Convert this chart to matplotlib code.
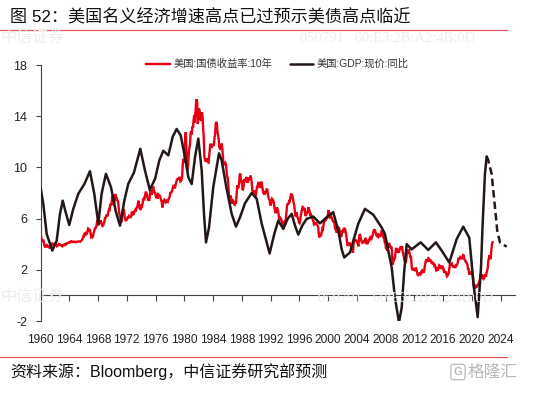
import numpy as np
import matplotlib
matplotlib.use("Agg")
import matplotlib.pyplot as plt
from matplotlib.lines import Line2D

plt.rcParams['font.family'] = ['Liberation Sans', 'Noto Sans CJK SC', 'DejaVu Sans']

# ---------------- data ----------------
title = "图 52：美国名义经济增速高点已过预示美债高点临近"
source = "资料来源：Bloomberg，中信证券研究部预测"
label_ust = "美国:国债收益率:10年"
label_gdp = "美国:GDP:现价:同比"

ust10y_start_year = 1960
ust10y = [
    4.72, 4.49, 4.25, 4.28, 4.35, 4.15, 3.90, 3.80, 3.80, 3.89, 3.93, 3.84,
    3.84, 3.78, 3.74, 3.78, 3.71, 3.88, 3.92, 4.04, 3.98, 3.92, 3.94, 4.06,
    4.08, 4.04, 3.93, 3.84, 3.87, 3.91, 4.01, 3.98, 3.98, 3.93, 3.92, 3.86,
    3.83, 3.92, 3.93, 3.97, 3.93, 3.99, 4.02, 4.00, 4.08, 4.11, 4.12, 4.13,
    4.17, 4.15, 4.22, 4.23, 4.20, 4.17, 4.19, 4.19, 4.20, 4.19, 4.15, 4.18,
    4.19, 4.21, 4.21, 4.20, 4.21, 4.21, 4.20, 4.25, 4.29, 4.35, 4.45, 4.62,
    4.61, 4.83, 4.87, 4.75, 4.78, 4.81, 5.02, 5.22, 5.18, 5.01, 5.16, 4.84,
    4.58, 4.63, 4.54, 4.59, 4.85, 5.02, 5.16, 5.28, 5.30, 5.48, 5.75, 5.70,
    5.53, 5.56, 5.74, 5.64, 5.87, 5.72, 5.50, 5.42, 5.46, 5.58, 5.70, 6.03,
    6.04, 6.19, 6.30, 6.17, 6.32, 6.57, 6.72, 6.69, 7.16, 7.10, 7.14, 7.65,
    7.79, 7.24, 7.07, 7.39, 7.91, 7.84, 7.46, 7.53, 7.39, 7.33, 6.84, 6.39,
    6.24, 6.11, 5.70, 5.83, 6.39, 6.52, 6.73, 6.58, 6.14, 5.93, 5.81, 5.93,
    5.95, 6.08, 6.07, 6.19, 6.13, 6.11, 6.11, 6.21, 6.55, 6.48, 6.28, 6.36,
    6.46, 6.64, 6.71, 6.67, 6.85, 6.90, 7.13, 7.40, 7.09, 6.79, 6.73, 6.74,
    6.99, 6.96, 7.21, 7.51, 7.58, 7.54, 7.81, 8.04, 8.04, 7.90, 7.68, 7.43,
    7.50, 7.39, 7.73, 8.23, 8.06, 7.86, 8.06, 8.40, 8.43, 8.14, 8.05, 8.00,
    7.74, 7.79, 7.73, 7.56, 7.90, 7.86, 7.83, 7.77, 7.59, 7.41, 7.29, 6.87,
    7.21, 7.39, 7.46, 7.37, 7.46, 7.28, 7.33, 7.40, 7.34, 7.52, 7.58, 7.69,
    8.01, 8.03, 8.04, 8.15, 8.35, 8.46, 8.64, 8.41, 8.42, 8.64, 8.81, 9.01,
    9.10, 9.10, 9.12, 9.18, 9.25, 8.91, 8.95, 9.03, 9.33, 10.30, 10.65, 10.39,
    10.80, 12.41, 12.75, 11.47, 10.18, 9.78, 10.25, 11.10, 11.51, 11.75, 12.68, 12.84,
    12.57, 13.19, 13.12, 13.68, 14.10, 13.47, 14.28, 14.94, 15.32, 15.15, 13.39, 13.72,
    14.59, 14.43, 13.86, 13.87, 13.62, 14.30, 13.95, 13.06, 12.34, 10.91, 10.55, 10.54,
    10.46, 10.72, 10.51, 10.40, 10.38, 10.85, 11.38, 11.85, 11.65, 11.54, 11.69, 11.83,
    11.67, 11.84, 12.32, 12.63, 13.41, 13.56, 13.36, 12.72, 12.52, 12.16, 11.57, 11.50,
    11.38, 11.51, 11.86, 11.43, 10.85, 10.16, 10.31, 10.33, 10.37, 10.24, 9.78, 9.26,
    9.19, 8.70, 7.78, 7.30, 7.71, 7.80, 7.30, 7.17, 7.45, 7.43, 7.25, 7.11,
    7.08, 7.25, 7.25, 8.02, 8.61, 8.40, 8.45, 8.76, 9.42, 9.52, 8.86, 8.99,
    8.67, 8.21, 8.37, 8.72, 9.09, 8.92, 9.06, 9.26, 8.98, 8.80, 8.96, 9.11,
    9.09, 9.17, 9.36, 9.18, 8.86, 8.28, 8.02, 8.11, 8.19, 8.01, 7.87, 7.84,
    8.21, 8.47, 8.59, 8.79, 8.76, 8.48, 8.47, 8.75, 8.89, 8.72, 8.39, 8.08,
    8.09, 7.85, 8.11, 8.04, 8.07, 8.28, 8.27, 7.90, 7.65, 7.53, 7.42, 7.09,
    7.03, 7.34, 7.54, 7.48, 7.39, 7.26, 6.84, 6.59, 6.42, 6.59, 6.87, 6.77,
    6.60, 6.26, 5.98, 5.97, 6.04, 5.96, 5.81, 5.68, 5.36, 5.33, 5.72, 5.77,
    5.75, 5.97, 6.48, 6.97, 7.18, 7.10, 7.30, 7.24, 7.46, 7.74, 7.96, 7.81,
    7.78, 7.47, 7.20, 7.06, 6.63, 6.17, 6.28, 6.49, 6.20, 6.04, 5.93, 5.71,
    5.65, 5.81, 6.27, 6.51, 6.74, 6.91, 6.87, 6.64, 6.83, 6.53, 6.20, 6.30,
    6.58, 6.42, 6.69, 6.89, 6.71, 6.49, 6.22, 6.30, 6.21, 6.03, 5.88, 5.81,
    5.54, 5.57, 5.65, 5.64, 5.65, 5.50, 5.46, 5.34, 4.81, 4.53, 4.83, 4.65,
    4.72, 5.00, 5.23, 5.18, 5.54, 5.90, 5.79, 5.94, 5.92, 6.11, 6.03, 6.28,
    6.66, 6.52, 6.26, 5.99, 6.44, 6.10, 6.05, 5.83, 5.80, 5.74, 5.72, 5.24,
    5.16, 5.10, 4.89, 5.14, 5.39, 5.28, 5.24, 4.97, 4.73, 4.57, 4.65, 5.09,
    5.04, 4.91, 5.28, 5.21, 5.16, 4.93, 4.65, 4.26, 3.87, 3.94, 4.05, 4.03,
    4.05, 3.90, 3.81, 3.96, 3.57, 3.33, 3.98, 4.45, 4.27, 4.29, 4.30, 4.27,
    4.15, 4.08, 3.83, 4.35, 4.72, 4.73, 4.50, 4.28, 4.13, 4.10, 4.19, 4.23,
    4.22, 4.17, 4.50, 4.34, 4.14, 4.00, 4.18, 4.26, 4.20, 4.46, 4.54, 4.47,
    4.42, 4.57, 4.72, 4.99, 5.11, 5.11, 5.09, 4.88, 4.72, 4.73, 4.60, 4.56,
    4.76, 4.72, 4.56, 4.69, 4.75, 5.10, 5.00, 4.67, 4.52, 4.53, 4.15, 4.10,
    3.74, 3.74, 3.51, 3.68, 3.88, 4.10, 4.01, 3.89, 3.69, 3.81, 3.53, 2.42,
    2.52, 2.87, 2.82, 2.93, 3.29, 3.72, 3.56, 3.59, 3.40, 3.39, 3.40, 3.59,
    3.73, 3.69, 3.73, 3.85, 3.42, 3.20, 3.01, 2.70, 2.65, 2.54, 2.76, 3.29,
    3.39, 3.58, 3.41, 3.46, 3.17, 3.00, 3.00, 2.30, 1.98, 2.15, 2.01, 1.98,
    1.97, 1.97, 2.17, 2.05, 1.80, 1.62, 1.53, 1.68, 1.72, 1.75, 1.65, 1.72,
    1.91, 1.98, 1.96, 1.76, 1.93, 2.30, 2.58, 2.74, 2.81, 2.62, 2.72, 2.90,
    2.86, 2.71, 2.72, 2.71, 2.56, 2.60, 2.54, 2.42, 2.53, 2.30, 2.33, 2.21,
    1.88, 1.98, 2.04, 1.94, 2.20, 2.36, 2.32, 2.17, 2.17, 2.07, 2.26, 2.24,
    2.09, 1.78, 1.89, 1.81, 1.81, 1.64, 1.50, 1.56, 1.63, 1.76, 2.14, 2.49,
    2.43, 2.42, 2.48, 2.30, 2.30, 2.19, 2.32, 2.21, 2.20, 2.36, 2.35, 2.40,
    2.58, 2.86, 2.84, 2.87, 2.98, 2.91, 2.89, 2.89, 3.00, 3.15, 3.12, 2.83,
    2.71, 2.68, 2.57, 2.53, 2.40, 2.07, 2.06, 1.63, 1.70, 1.71, 1.81, 1.86,
    1.76, 1.50, 0.87, 0.66, 0.67, 0.73, 0.62, 0.65, 0.68, 0.79, 0.87, 0.93,
    1.08, 1.26, 1.61, 1.64, 1.62, 1.52, 1.32, 1.28, 1.37, 1.58, 1.56, 1.47,
    1.76, 1.93, 2.13, 2.75, 2.90, 3.14, 2.90, 2.90, 3.52, 3.98, 4.15,
]

# nominal GDP yoy
gdp_year = [1960.0, 1960.39, 1960.86, 1961.64, 1962.25, 1962.71, 1963.09, 1963.5, 1964.0,
            1964.56, 1965.26, 1966.1, 1966.88, 1967.48, 1968.04, 1968.5, 1969.1, 1969.8,
            1970.46, 1971.06, 1971.66, 1972.2, 1973.0, 1973.88, 1974.53, 1975.2, 1975.93,
            1976.53, 1977.08, 1977.78, 1978.39, 1978.94, 1979.5, 1980.1, 1980.56, 1981.03,
            1981.49, 1981.95, 1982.42, 1982.74, 1983.02, 1983.44, 1984.03, 1984.83, 1985.2,
            1985.8, 1986.59, 1987.19, 1987.75, 1988.44, 1989.37, 1990.07, 1990.77, 1991.87,
            1992.52, 1993.07, 1993.77, 1994.38, 1994.94, 1995.4, 1995.86, 1996.41, 1997.02,
            1997.94, 1998.87, 1999.8, 2000.72, 2001.42, 2001.89, 2002.25, 2003.05, 2003.64,
            2004.2, 2005.13, 2006.29, 2007.46, 2007.91, 2008.85, 2009.3, 2009.86, 2010.24,
            2010.56, 2010.93, 2011.63, 2012.88, 2013.93, 2015.0, 2015.8, 2016.86, 2017.89,
            2018.8, 2019.64, 2020.29, 2020.81, 2021.27, 2021.5, 2021.82, 2022.06]
gdp_yoy = [8.46, 7.15, 4.8, 3.5, 4.27, 6.37, 7.4, 6.5, 5.5,
           6.76, 7.94, 8.7, 9.7, 7.94, 5.6, 7.94, 9.5, 8.46,
           6.6, 5.45, 7.4, 8.7, 9.6, 11.45, 9.76, 8.25, 9.1,
           10.55, 11.3, 10.94, 12.4, 13.0, 12.5, 10.8, 9.24, 8.7,
           10.8, 12.25, 9.76, 6.37, 4.14, 5.3, 8.46, 11.1, 10.55,
           8.6, 6.37, 5.37, 6.1, 7.2, 8.0, 7.55, 5.6, 3.28,
           4.8, 5.85, 5.2, 5.98, 6.37, 5.45, 4.75, 5.45, 5.98,
           6.16, 5.63, 6.1, 6.5, 5.06, 3.6, 2.96, 3.36, 4.53,
           5.6, 6.76, 6.3, 5.3, 4.8, 2.18, -0.17, -2.1, -0.96,
           1.67, 4.0, 3.6, 4.14, 3.55, 4.14, 3.5, 2.57, 4.4,
           5.37, 4.5, 0.6, -1.7, 2.18, 5.6, 9.5, 10.86]
gdp_fcst_year = [2022.06, 2022.28, 2022.75, 2023.21, 2023.53, 2023.91, 2024.84]
gdp_fcst_yoy = [10.86, 10.55, 9.5, 6.9, 5.06, 4.14, 3.8]

x_ticks = list(range(1960, 2025, 4))
y_ticks = [-2, 2, 6, 10, 14, 18]

# ---------------- figure ----------------
W, H = 552, 396
fig = plt.figure(figsize=(W / 100, H / 100), dpi=100)
fig.patch.set_facecolor('white')

ax_l, ax_r, ax_t, ax_b = 40.5, 515, 65, 321
ax = fig.add_axes([ax_l / W, 1 - ax_b / H, (ax_r - ax_l) / W, (ax_b - ax_t) / H])

red = '#e60012'
black = '#231815'

ust_x = ust10y_start_year + (np.arange(len(ust10y)) + 0.5) / 12.0
ax.plot(ust_x, ust10y, color=red, lw=1.7, label=label_ust, zorder=2, solid_joinstyle='miter')
ax.plot(gdp_year, gdp_yoy, color=black, lw=1.8, label=label_gdp, zorder=3,
        solid_joinstyle='round', solid_capstyle='round')
ax.plot(gdp_fcst_year, gdp_fcst_yoy, color=black, lw=1.8, dashes=(3, 1.6), zorder=3)

ax.set_xlim(1960, 2026)
ax.set_ylim(-2, 18)
for s in ['top', 'right']:
    ax.spines[s].set_visible(False)
ax.spines['bottom'].set_position(('data', 0))
ax.spines['left'].set_color('#444444')
ax.spines['bottom'].set_color('#444444')
ax.spines['left'].set_linewidth(0.8)
ax.spines['bottom'].set_linewidth(0.8)

ax.set_xticks(x_ticks)
ax.set_xticklabels([str(t) for t in x_ticks])
ax.set_yticks(y_ticks)
ax.set_yticklabels([str(t) for t in y_ticks])
ax.tick_params(axis='x', direction='out', length=4, width=0.8, color='#444444',
               pad=24, labelsize=8.6, labelcolor='#222222')
ax.tick_params(axis='y', direction='out', length=3.5, width=0.8, color='#444444',
               pad=6, labelsize=9, labelcolor='#222222')
for lab in ax.get_xticklabels() + ax.get_yticklabels():
    lab.set_fontfamily(['Liberation Sans Narrow', 'Liberation Sans'])

leg = ax.legend(loc='center left', bbox_to_anchor=((146 - ax_l) / (ax_r - ax_l), (ax_b - 64) / (ax_b - ax_t)),
                ncol=2, frameon=False, fontsize=7.4, handlelength=2.3, handletextpad=0.35,
                columnspacing=1.7, borderaxespad=0, borderpad=0)
for t in leg.get_texts():
    t.set_color('#333333')

# ---------------- texts & decorations ----------------
fig.text(10 / W, 1 - 17 / H, title, fontsize=12.3, color='#111111', va='center', ha='left')
fig.add_artist(Line2D([0, 507 / W], [1 - 30 / H] * 2, color='#e05a5a', lw=0.9))
fig.add_artist(Line2D([0, 507 / W], [1 - 357 / H] * 2, color='#e05a5a', lw=0.9))
fig.text(10 / W, 1 - 372 / H, source, fontsize=11.5, color='#111111', va='center', ha='left')

wm = '#ededed'
fig.text(0 / W, 1 - 38 / H, "中信证券", fontsize=11.5, color=wm, va='center', ha='left')
fig.text(300 / W, 1 - 38 / H, "050791   60:E3:2B:A2:4B:0D", fontsize=10.5, color=wm,
         va='center', ha='left', family=['Liberation Serif'])
fig.text(0 / W, 1 - 297 / H, "中信证券", fontsize=11.5, color=wm, va='center', ha='left', zorder=0)
fig.text(318 / W, 1 - 298 / H, "050791   60:E3:2B:A2:4B:0D", fontsize=10.5, color=wm,
         va='center', ha='left', family=['Liberation Serif'], zorder=0)

fig.text(458 / W, 1 - 372 / H, "G", fontsize=8, color='#b8b8b8', va='center', ha='center',
         fontweight='bold',
         bbox=dict(boxstyle='round,pad=0.25', fc='none', ec='#b8b8b8', lw=0.9))
fig.text(468 / W, 1 - 372 / H, "格隆汇", fontsize=12, color='#b8b8b8', va='center', ha='left')

fig.savefig('out.png', dpi=100)
